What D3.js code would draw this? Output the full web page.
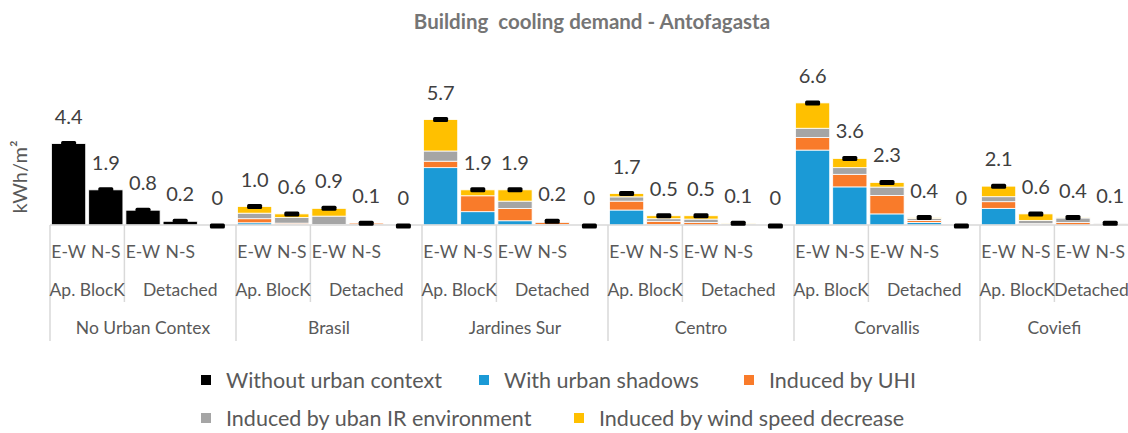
<!DOCTYPE html>
<html>
<head>
<meta charset="utf-8">
<script src="https://cdn.jsdelivr.net/npm/d3@7"></script>
<style>
  body { margin: 0; background: #fff; }
  svg { font-family: Lato, "Open Sans", sans-serif; }
</style>
</head>
<body>
<div id="chart"></div>
<script>
// categories
var cities       = ['No Urban Contex', 'Brasil', 'Jardines Sur', 'Centro', 'Corvallis', 'Coviefi'];
var typologies   = ['Ap. BlocK', 'Detached'];
var orientations = ['E-W', 'N-S'];

// series values, one per slot (E-W, N-S, E-W, N-S, blank) per city, Coviefi has no blank
var withoutContext = [4.4, 1.9, 0.8, 0.2, 0,  0, 0, 0, 0, 0,  0, 0, 0, 0, 0,  0, 0, 0, 0, 0,  0, 0, 0, 0, 0,  0, 0, 0, 0];
var urbanShadows   = [0, 0, 0, 0, 0,  0.12, 0.03, 0, 0.02, 0,  3.1, 0.72, 0.23, 0.03, 0,  0.81, 0.02, 0, 0, 0,  4.05, 2.06, 0.6, 0.14, 0,  0.9, 0.04, 0, 0];
var inducedUHI     = [0, 0, 0, 0, 0,  0.22, 0.07, 0.03, 0.08, 0,  0.35, 0.86, 0.66, 0.12, 0,  0.48, 0.18, 0.13, 0.02, 0,  0.68, 0.68, 1.0, 0.1, 0,  0.36, 0.03, 0.13, 0.05];
var inducedIR      = [0, 0, 0, 0, 0,  0.3, 0.3, 0.45, 0, 0,  0.55, 0, 0.4, 0.03, 0,  0.23, 0.14, 0.19, 0.06, 0,  0.5, 0.36, 0.45, 0.12, 0,  0.27, 0.18, 0.25, 0.05];
var inducedWind    = [0, 0, 0, 0, 0,  0.36, 0.2, 0.42, 0, 0,  1.7, 0.32, 0.61, 0.02, 0,  0.18, 0.16, 0.18, 0.02, 0,  1.37, 0.5, 0.25, 0.04, 0,  0.57, 0.35, 0.02, 0];
var totals         = [4.4, 1.9, 0.8, 0.2, 0,  1.0, 0.6, 0.9, 0.1, 0,  5.7, 1.9, 1.9, 0.2, 0,  1.7, 0.5, 0.5, 0.1, 0,  6.6, 3.6, 2.3, 0.4, 0,  2.1, 0.6, 0.4, 0.1];

var seriesNames  = ['Without urban context', 'With urban shadows', 'Induced by UHI',
                    'Induced by uban IR environment', 'Induced by wind speed decrease'];
var seriesColors = ['#000000', '#1b9ad6', '#f97b2a', '#a5a5a5', '#ffc000'];

// MAIN
var width  = 1128;
var height = 433;
var base   = 225;
var left   = 50;
var slotW  = 37.2;

// build slot list from the categories
var slots = [];
cities.forEach(function(city, ci) {
  typologies.forEach(function(typ) {
    orientations.forEach(function(o) {
      slots.push({ city: city, typ: typ, label: o });
    });
  });
  if (ci < cities.length - 1) slots.push({ city: city, typ: 'Detached', label: '' });
});
slots.forEach(function(s, i) { s.id = i; });

var allSeries = [withoutContext, urbanShadows, inducedUHI, inducedIR, inducedWind];
var rows = slots.map(function(s, i) {
  var r = { id: i };
  allSeries.forEach(function(arr, k) { r['s' + k] = arr[i]; });
  return r;
});

var xScale = d3.scaleBand()
  .domain(slots.map(function(s) { return s.id; }))
  .range([left, left + slotW * slots.length])
  .paddingInner(0.08)
  .paddingOuter(0.04);

var yScale = d3.scaleLinear()
  .domain([0, 7])
  .range([base, base - 7 * 18.5]);

var stack = d3.stack().keys(allSeries.map(function(a, k) { return 's' + k; }));
var layers = stack(rows);

var svg = d3.select('#chart').append('svg')
  .attr('width', width)
  .attr('height', height);

// title
svg.append('text')
  .attr('x', 592)
  .attr('y', 29)
  .attr('text-anchor', 'middle')
  .style('font-weight', 'bold')
  .style('font-size', '20.5px')
  .style('fill', '#757575')
  .style('white-space', 'pre')
  .text('Building  cooling demand - Antofagasta');

// y label
svg.append('text')
  .attr('transform', 'translate(27,177) rotate(-90)')
  .attr('text-anchor', 'middle')
  .style('font-size', '20px')
  .style('fill', '#595959')
  .text('kWh/m²');

// stacked bars
svg.append('g').selectAll('g')
  .data(layers)
  .enter().append('g')
    .attr('fill', function(d, i) { return seriesColors[i]; })
  .selectAll('rect')
  .data(function(d) { return d; })
  .enter().append('rect')
    .filter(function(d) { return d[1] - d[0] > 0; })
    .attr('x', function(d, i) { return xScale(d.data.id); })
    .attr('width', xScale.bandwidth())
    .attr('y', function(d) { return yScale(d[1]); })
    .attr('height', function(d) { return yScale(d[0]) - yScale(d[1]); })
    .attr('stroke', '#fff')
    .attr('stroke-width', 0.8);

// category axis lines
var axis = svg.append('g').attr('stroke', '#d9d9d9').attr('stroke-width', 1.5);
axis.append('line')
  .attr('x1', left).attr('x2', width)
  .attr('y1', base).attr('y2', base);

var groupStarts = slots.filter(function(s, i) { return i === 0 || slots[i - 1].city !== s.city; });
axis.selectAll('line.grp')
  .data(groupStarts)
  .enter().append('line')
    .attr('class', 'grp')
    .attr('x1', function(s) { return xScale(s.id) - xScale.step() * xScale.paddingInner() / 2; })
    .attr('x2', function(s) { return xScale(s.id) - xScale.step() * xScale.paddingInner() / 2; })
    .attr('y1', base).attr('y2', 341);

var typStarts = slots.filter(function(s, i) { return i > 0 && slots[i - 1].city === s.city && slots[i - 1].typ !== s.typ; });
axis.selectAll('line.typ')
  .data(typStarts)
  .enter().append('line')
    .attr('class', 'typ')
    .attr('x1', function(s) { return xScale(s.id) - xScale.step() * xScale.paddingInner() / 2; })
    .attr('x2', function(s) { return xScale(s.id) - xScale.step() * xScale.paddingInner() / 2; })
    .attr('y1', base).attr('y2', 302);

// total markers
svg.append('g').selectAll('rect')
  .data(totals)
  .enter().append('rect')
    .attr('x', function(d, i) { return xScale(i) + xScale.bandwidth() / 2 - 7.5; })
    .attr('y', function(d) { return yScale(d) - 2.5 + (d === 0 ? 1 : 0); })
    .attr('width', 15)
    .attr('height', 5)
    .attr('rx', 1.5)
    .attr('fill', '#000');

// data labels
svg.append('g').selectAll('text')
  .data(totals)
  .enter().append('text')
    .attr('x', function(d, i) { return xScale(i) + xScale.bandwidth() / 2; })
    .attr('y', function(d) { return yScale(d) - 20; })
    .attr('text-anchor', 'middle')
    .style('font-size', '20px')
    .style('fill', '#404040')
    .text(function(d) { return d === 0 ? '0' : d.toFixed(1); });

// leaf labels
var labelStyle = function(sel) {
  sel.attr('text-anchor', 'middle')
    .style('font-size', '17.5px')
    .style('fill', '#595959');
};
svg.append('g').selectAll('text')
  .data(slots)
  .enter().append('text')
    .attr('x', function(s) { return xScale(s.id) + xScale.bandwidth() / 2; })
    .attr('y', 258)
    .call(labelStyle)
    .text(function(s) { return s.label; });

// typology labels
var typGroups = d3.groups(slots, function(s) { return s.city + '|' + s.typ; });
svg.append('g').selectAll('text')
  .data(typGroups)
  .enter().append('text')
    .attr('x', function(g) {
      var a = g[1][0].id, b = g[1][g[1].length - 1].id;
      return (xScale(a) + xScale(b) + xScale.bandwidth()) / 2;
    })
    .attr('y', 296)
    .call(labelStyle)
    .text(function(g) { return g[1][0].typ; });

// city labels
var cityGroups = d3.groups(slots, function(s) { return s.city; });
svg.append('g').selectAll('text')
  .data(cityGroups)
  .enter().append('text')
    .attr('x', function(g) {
      var a = g[1][0].id, b = g[1][g[1].length - 1].id;
      return (xScale(a) + xScale(b) + xScale.bandwidth()) / 2;
    })
    .attr('y', 334)
    .call(labelStyle)
    .text(function(g) { return g[0]; });

// legend
var legendPos = [
  { x: 201, y: 380 }, { x: 479, y: 380 }, { x: 744, y: 380 },
  { x: 201, y: 418 }, { x: 574, y: 418 }
];
var legend = svg.append('g').selectAll('g')
  .data(seriesNames)
  .enter().append('g')
    .attr('transform', function(d, i) { return 'translate(' + legendPos[i].x + ',' + legendPos[i].y + ')'; });
legend.append('rect')
  .attr('x', 0).attr('y', -5)
  .attr('width', 10).attr('height', 10)
  .attr('fill', function(d, i) { return seriesColors[i]; });
legend.append('text')
  .attr('x', 25)
  .attr('y', 7.5)
  .style('font-size', '21.5px')
  .style('fill', '#595959')
  .text(function(d) { return d; });
</script>
</body>
</html>
